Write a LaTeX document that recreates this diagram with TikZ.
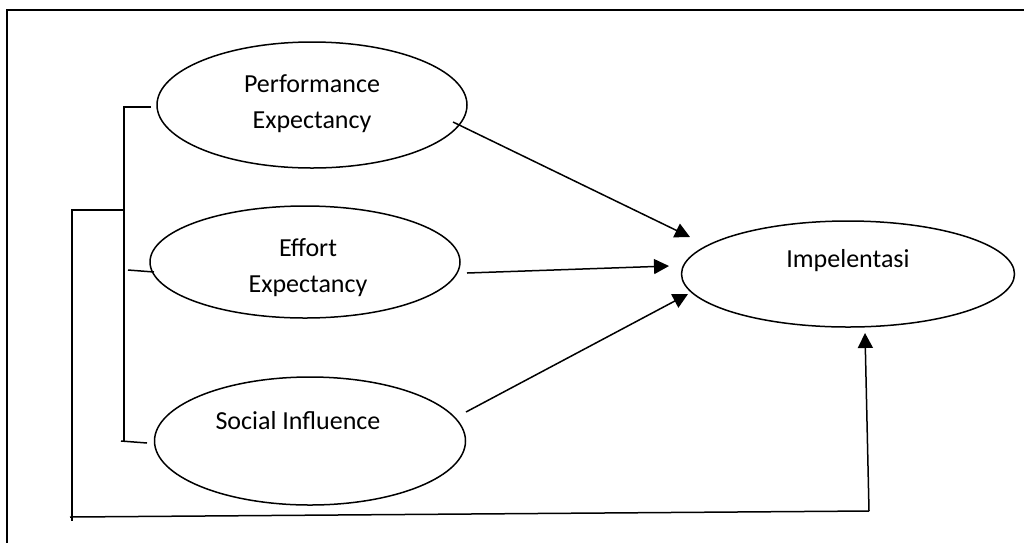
\documentclass[tikz,border=0pt]{standalone}
\usepackage{fontspec}
\setmainfont{Carlito}
\usetikzlibrary{shapes.geometric,arrows.meta}
\begin{document}
\begin{tikzpicture}[x=1pt,y=-1pt,
  line/.style={line width=1.5pt},
  oval/.style={draw,ellipse,line width=1.5pt,inner sep=0pt},
  lbl/.style={font=\fontsize{26}{36}\selectfont,inner sep=0pt,align=center},
  arr/.style={line width=1.5pt,-{Triangle[length=15pt,width=15pt]}}]
\useasboundingbox (0,0) rectangle (1024,542);
% frame (only top and left visible)
\coordinate (fbl) at (7,548);
\coordinate (ftl) at (7,10);
\coordinate (ftr) at (1030,10);
\draw[line] (fbl) -- (ftl) -- (ftr);
% ellipses
\node[oval,minimum width=310pt,minimum height=126pt] (pe) at (312,105) {};
\node[oval,minimum width=310pt,minimum height=112pt] (ee) at (305,262) {};
\node[oval,minimum width=311pt,minimum height=128pt] (si) at (310,441) {};
\node[oval,minimum width=333pt,minimum height=106pt] (im) at (848,274) {};
% labels
\node[lbl] (tpe) at (312,104) {Performance\\Expectancy};
\node[lbl] (tee) at (308,268) {Effort\\Expectancy};
\node[lbl] (tsi) at (298,421) {Social Influence};
\node[lbl] (tim) at (848,261) {Impelentasi};
% bracket
\coordinate (b1) at (151,107);
\coordinate (b1c) at (124,107);
\coordinate (b3c) at (124,441);
\coordinate (b2a) at (128,270);
\coordinate (b2b) at (154,272);
\coordinate (b3a) at (121,441);
\coordinate (b3b) at (147,443);
\draw[line] (b1) -- (b1c) -- (b3c);
\draw[line] (b2a) -- (b2b);
\draw[line] (b3a) -- (b3b);
% loop to Impelentasi
\coordinate (l1) at (124,210);
\coordinate (l2) at (72,210);
\coordinate (l3) at (72,521);
\coordinate (l4) at (70,517);
\coordinate (l5) at (869,511);
\coordinate (l6) at (865,333);
\draw[line] (l1) -- (l2) -- (l3);
\draw[line] (l4) -- (l5);
\draw[arr] (l5) -- (l6);
% arrows
\coordinate (peo) at (453,122);
\coordinate (imi1) at (690,237);
\coordinate (eeo) at (467,273);
\coordinate (imi2) at (669,266);
\coordinate (sio) at (466,412);
\coordinate (imi3) at (688,294);
\draw[arr] (peo) -- (imi1);
\draw[arr] (eeo) -- (imi2);
\draw[arr] (sio) -- (imi3);
\end{tikzpicture}
\end{document}
